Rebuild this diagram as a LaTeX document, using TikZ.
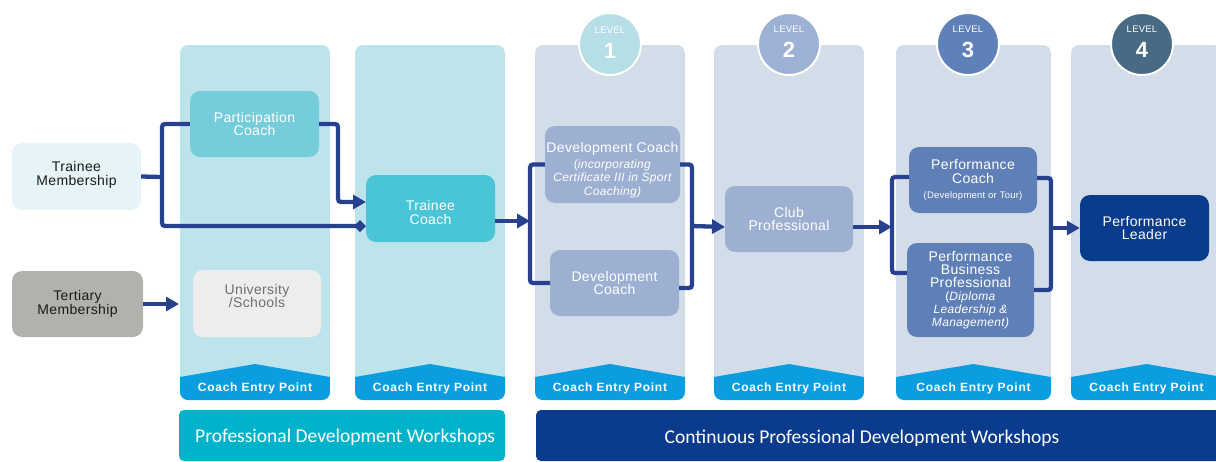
\documentclass[tikz,border=0pt]{standalone}
\usepackage{fontspec}
\setmainfont[LetterSpace=2.5]{Liberation Sans}
\newfontfamily\calfont{Carlito}
\newfontfamily\entryfont[LetterSpace=6]{Liberation Sans}
\usetikzlibrary{arrows.meta}
\definecolor{panelA}{HTML}{BDE4EB}
\definecolor{panelL}{HTML}{D3DDEA}
\definecolor{entry}{HTML}{0A9EE0}
\definecolor{tmfill}{HTML}{E6F4F7}
\definecolor{ttfill}{HTML}{B1B1AD}
\definecolor{pcfill}{HTML}{75CDDC}
\definecolor{usfill}{HTML}{EDEDED}
\definecolor{ustext}{HTML}{6E6E6E}
\definecolor{tcfill}{HTML}{4AC4D7}
\definecolor{dfill}{HTML}{9DB0D2}
\definecolor{lthree}{HTML}{5F80B7}
\definecolor{plfill}{HTML}{0A3C8C}
\definecolor{conn}{HTML}{27418E}
\definecolor{pdw}{HTML}{00B3CB}
\definecolor{cpdw}{HTML}{0A3B8C}
\definecolor{lvA}{HTML}{B6DEE7}
\definecolor{lvB}{HTML}{9DB1D4}
\definecolor{lvC}{HTML}{5F81B9}
\definecolor{lvD}{HTML}{496A84}
\definecolor{dark}{HTML}{1A1A1A}
\begin{document}
\begin{tikzpicture}[x=1pt,y=-1pt,
  box/.style={rounded corners=10pt, inner sep=0pt, align=center, text=white,
    font=\fontsize{14}{13.5}\selectfont},
  connline/.style={draw=conn, line width=4.3pt, rounded corners=3pt},
  arr/.style={connline, -{Triangle[length=13pt,width=14pt]}},
  dia/.style={connline, -{Diamond[length=12pt,width=12pt]}},
  entrytext/.style={text=white, font=\entryfont\bfseries\fontsize{12}{12}\selectfont, inner sep=0pt},
  wstext/.style={text=white, font=\calfont\fontsize{19.5}{20}\selectfont, inner sep=0pt},
  lvl/.style={circle, draw=white, line width=2pt, minimum size=62pt, inner sep=0pt},
  lvltxt/.style={text=white, inner sep=0pt, font=\fontsize{9.5}{9.5}\selectfont},
  lvlnum/.style={text=white, inner sep=0pt, font=\bfseries\fontsize{22}{22}\selectfont}
]
\useasboundingbox (0,0) rectangle (1216,461);
\clip (0,0) rectangle (1216,461);

% column panels with coach entry points
\foreach \xa/\xb/\col in {180/330/panelA, 355/505/panelA, 535/685/panelL, 714/864/panelL, 896/1051/panelL, 1071/1222/panelL} {
  \begin{scope}
    \clip[rounded corners=8pt] (\xa,45) rectangle (\xb,400);
    \fill[\col] (\xa,45) rectangle (\xb,400);
    \fill[entry] (\xa,377) -- ({(\xa+\xb)/2},364) -- (\xb,377) -- (\xb,400) -- (\xa,400) -- cycle;
  \end{scope}
  \node[entrytext] (entry\xa) at ({(\xa+\xb)/2},388) {Coach Entry Point};
}

% workshop bars
\fill[pdw, rounded corners=5pt] (179,410) rectangle (505,461);
\node[wstext, anchor=west] (pdwt) at (195,437) {Professional Development Workshops};
\fill[cpdw, rounded corners=5pt] (536,410) rectangle (1230,461);
\node[wstext] (cpdwt) at (862,438) {Continuous Professional Development Workshops};

% level circles
\node[lvl, fill=lvA] (c1) at (610,44) {};
\node[lvl, fill=lvB] (c2) at (789,44) {};
\node[lvl, fill=lvC] (c3) at (968,44) {};
\node[lvl, fill=lvD] (c4) at (1142,44) {};
\node[lvltxt] (c1t) at (610,30) {LEVEL};
\node[lvltxt] (c2t) at (789,29) {LEVEL};
\node[lvltxt] (c3t) at (968,29) {LEVEL};
\node[lvltxt] (c4t) at (1142,29) {LEVEL};
\node[lvlnum] (c1n) at (610,51) {1};
\node[lvlnum] (c2n) at (789,50) {2};
\node[lvlnum] (c3n) at (968,50) {3};
\node[lvlnum] (c4n) at (1142,50) {4};

% boxes
\node[box, fill=tmfill, text=dark, minimum width=129pt, minimum height=67pt] (tm) at (76.5,176.5) {Trainee\\Membership\rule[-6pt]{0pt}{0pt}};
\node[box, fill=ttfill, text=dark, minimum width=131pt, minimum height=66pt] (tt) at (77.5,304) {Tertiary\\Membership};
\node[box, fill=pcfill, minimum width=129pt, minimum height=66pt] (pc) at (254.5,124) {Participation\\Coach};
\node[box, fill=usfill, text=ustext, minimum width=128pt, minimum height=67pt] (us) at (257,303.5) {University\\/Schools\rule[-15pt]{0pt}{0pt}};
\node[box, fill=tcfill, minimum width=129pt, minimum height=67pt] (tc) at (430.5,208.5) {\rule{0pt}{18pt}Trainee\\Coach};
\node[box, fill=dfill, minimum width=135pt, minimum height=77pt] (d1) at (612.5,164.5)
  {\rule{0pt}{20.5pt}Development Coach\\[2.5pt]{\fontsize{12}{14}\selectfont(\textit{incorporating}}\\
   {\fontsize{12}{14}\selectfont\itshape Certificate III in Sport}\\
   {\fontsize{12}{14}\selectfont\itshape Coaching)}};
\node[box, fill=dfill, minimum width=129pt, minimum height=66pt] (d2) at (614.5,283) {Development\\Coach};
\node[box, fill=dfill, minimum width=128pt, minimum height=66pt] (cp) at (789,219) {Club\\Professional};
\node[box, fill=lthree, minimum width=128pt, minimum height=66pt] (pc3) at (973,180)
  {Performance\\Coach\\[2pt]{\fontsize{9.5}{11}\selectfont (Development or Tour)}};
\node[box, fill=lthree, minimum width=127pt, minimum height=94pt, font=\fontsize{14}{13}\selectfont] (pbp) at (970.5,290)
  {Performance\\Business\\Professional\\{\fontsize{12}{13}\selectfont(\textit{Diploma}}\\
   {\fontsize{12}{13}\selectfont\itshape Leadership \&}\\
   {\fontsize{12}{13}\selectfont\itshape Management)}};
\node[box, fill=plfill, minimum width=129pt, minimum height=66pt] (pl) at (1144.5,228) {Performance\\Leader};

% junction coordinates
\coordinate (j1) at (162,177);
\coordinate (tcA) at (366,202);
\coordinate (tcB) at (366,226);
\coordinate (k1) at (338,202);
\coordinate (uin) at (179,304);
\coordinate (tcout) at (495,221);
\coordinate (bl1) at (530,221);
\coordinate (d2in) at (550,283);
\coordinate (br1) at (692,226);
\coordinate (d2out) at (679,288);
\coordinate (cpin) at (725,227);
\coordinate (cpout) at (853,227);
\coordinate (bl3) at (892,227);
\coordinate (pc3in) at (909,177);
\coordinate (pbpin) at (907,273);
\coordinate (br3) at (1051,228);
\coordinate (pc3out) at (1037,178);
\coordinate (pbpout) at (1034,290);

% connectors
\draw[connline] (tm.east) -- (j1);
\draw[connline] (j1) |- (pc.west);
\draw[dia] (j1) |- (tcB);
\draw[arr] (pc.east) -| (k1) -- (tcA);
\draw[arr] (tt.east) -- (uin);
\draw[arr] (tcout) -- (bl1);
\draw[connline] (d1.west) -| (bl1) |- (d2in);
\draw[connline] (d1.east) -| (br1) |- (d2out);
\draw[arr] (br1) -- (cpin);
\draw[arr] (cpout) -- (bl3);
\draw[connline] (pc3in) -| (bl3) |- (pbpin);
\draw[connline] (pc3out) -| (br3) |- (pbpout);
\draw[arr] (br3) -- (pl.west);
\end{tikzpicture}
\end{document}
